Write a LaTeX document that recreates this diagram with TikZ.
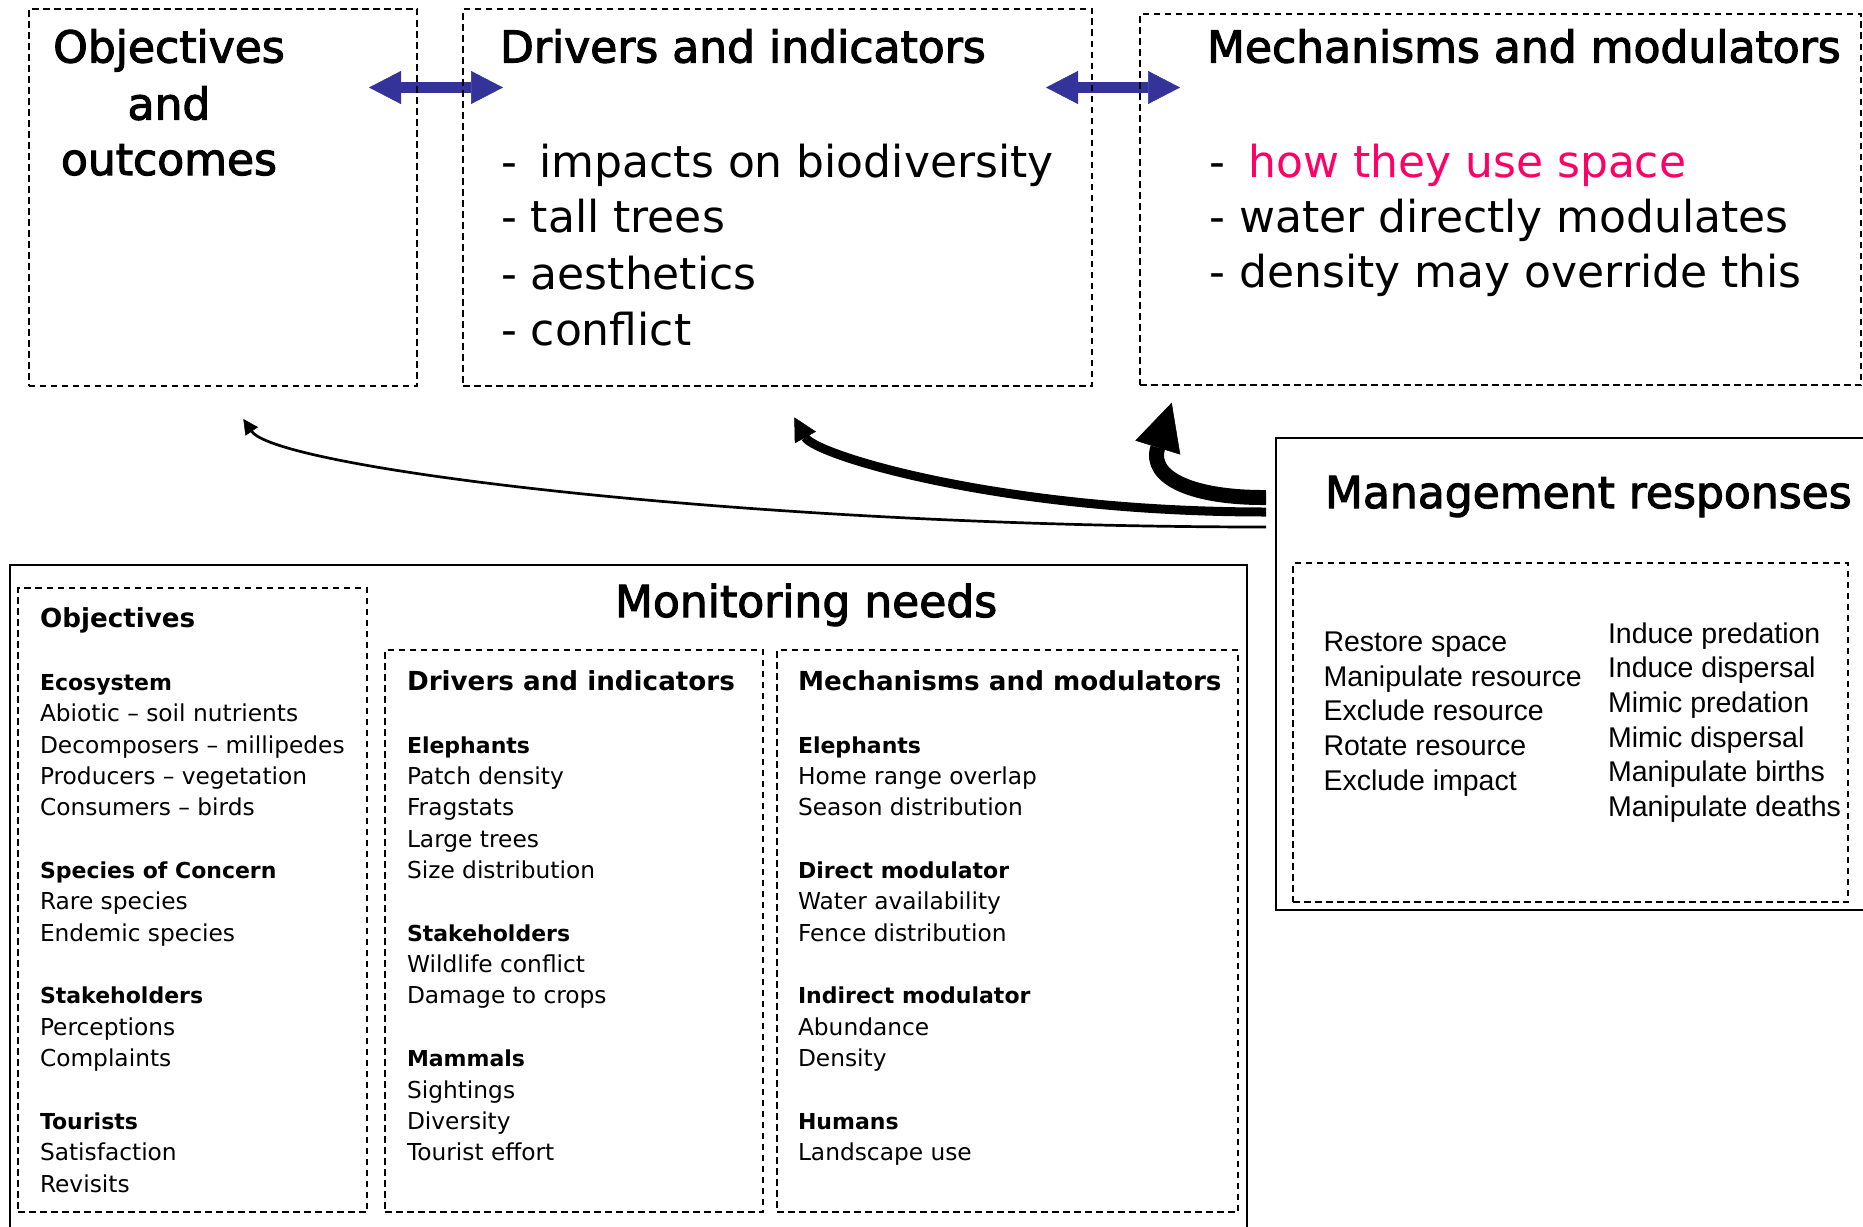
\documentclass[tikz,border=0pt]{standalone}
\usepackage{fontspec}
\setmainfont{DejaVu Sans}
\newfontfamily\titlefont[FakeBold=2.5]{DejaVu Sans}
\newfontfamily\arialfont{Liberation Sans}
\usetikzlibrary{arrows.meta}
\definecolor{arrowblue}{RGB}{51,51,153}
\definecolor{hotpink}{RGB}{255,0,102}
\tikzset{
  dbox/.style={draw, line width=2pt, dash pattern=on 6.5pt off 4.5pt, anchor=north west},
  sbox/.style={draw, line width=2.5pt, anchor=north west},
  toptitle/.style={font=\titlefont\fontsize{44}{56}\selectfont},
  toptxt/.style={anchor=base west, font=\fontsize{44}{56}\selectfont},
  mtitle/.style={anchor=base west, font=\bfseries\fontsize{26.2}{31.36}\selectfont},
  mhead/.style={anchor=base west, font=\bfseries\fontsize{22}{31.36}\selectfont},
  mtxt/.style={anchor=base west, font=\fontsize{23.3}{31.36}\selectfont},
  rtxt/.style={anchor=base west, font=\arialfont\fontsize{28.5}{34.6}\selectfont},
  bluearr/.style={draw=arrowblue, line width=10.5pt,
    {Triangle[length=32pt,width=33pt,line width=0.5pt]}-{Triangle[length=32pt,width=33pt,line width=0.5pt]}},
  thinarr/.style={draw=black, line width=2.7pt, -{Triangle[length=15pt,width=15pt,line width=0.5pt]}},
  medarr/.style={draw=black, line width=9pt, -{Triangle[length=23pt,width=24pt,line width=0.5pt]}},
  thickarr/.style={draw=black, line width=15pt, -{Triangle[length=47pt,width=47pt,line width=0.5pt]}}
}
\begin{document}
\begin{tikzpicture}[x=1pt,y=-1pt, every node/.style={inner sep=0pt,outer sep=0pt}]
\useasboundingbox (0,0) rectangle (1863,1226);
\clip (0,0) rectangle (1863,1226);
\fill[white] (0,0) rectangle (1863,1226);

% blue double arrows (under the dashed borders)
\coordinate (ba1) at (369,87.5);
\coordinate (bb1) at (503,87.5);
\coordinate (ba2) at (1046,87.5);
\coordinate (bb2) at (1180,87.5);
\draw[bluearr] (ba1) -- (bb1);
\draw[bluearr] (ba2) -- (bb2);

% top boxes
\node[dbox, minimum width=388.5pt, minimum height=377pt] (tobj) at (28.5,9) {};
\node[dbox, minimum width=629pt, minimum height=377pt] (tdrv) at (463,9) {};
\node[dbox, minimum width=721pt, minimum height=371pt] (tmech) at (1140,14) {};

\node[toptitle, anchor=base] (tobj1) at (169,62.5) {Objectives};
\node[toptitle, anchor=base] (tobj2) at (169,119.6) {and};
\node[toptitle, anchor=base] (tobj3) at (169,175) {outcomes};

\node[toptitle, anchor=base west] (tdrvT) at (500,62.5) {Drivers and indicators};
\node[toptxt] (tdrv1) at (501,177) {-\hspace{0.2em} impacts on biodiversity};
\node[toptxt] (tdrv2) at (501,232) {- tall trees};
\node[toptxt] (tdrv3) at (501,289) {- aesthetics};
\node[toptxt] (tdrv4) at (501,345) {- conflict};

\node[toptitle, anchor=base west] (tmechT) at (1207,62.5) {Mechanisms and modulators};
\node[toptxt] (tmech1) at (1209.6,177) {-\hspace{0.2em} \textcolor{hotpink}{how they use space}};
\node[toptxt] (tmech2) at (1209.6,232) {- water directly modulates};
\node[toptxt] (tmech3) at (1209.6,287) {- density may override this};

% management responses
\node[sbox, minimum width=620pt, minimum height=472pt] (mgmt) at (1276,438) {};
\node[toptitle, anchor=base west] (mgmtT) at (1325,508) {Management responses};
\node[dbox, minimum width=555pt, minimum height=339pt] (mgin) at (1293,563) {};
\foreach \k/\t in {0/Restore space, 1/Manipulate resource, 2/Exclude resource, 3/Rotate resource, 4/Exclude impact}
  \node[rtxt] (ml\k) at (1323.5,{651.7+\k*34.6}) {\t};
\foreach \k/\t in {0/Induce predation, 1/Induce dispersal, 2/Mimic predation, 3/Mimic dispersal, 4/Manipulate births, 5/Manipulate deaths}
  \node[rtxt] (mr\k) at (1608,{643.3+\k*34.6}) {\t};

% curved arrows from management responses
\coordinate (t1) at (243.3,419);
\coordinate (t2) at (794.3,417.3);
\coordinate (t3) at (1171.7,402.7);
\draw[thinarr] ([shift={(-10,89)}]mgmt.north west) .. controls (750,527) and (277,468.5) .. (t1);
\draw[medarr] ([shift={(-10,74)}]mgmt.north west) .. controls (1000,512) and (815,455) .. (t2);
\draw[thickarr] ([shift={(-10,59.5)}]mgmt.north west) .. controls (1195,498) and (1148,479) .. (t3);

% monitoring needs
\node[sbox, minimum width=1237pt, minimum height=690pt] (mon) at (10,565) {};
\node[toptitle, anchor=base west] (monT) at (615,617) {Monitoring needs};

\node[dbox, minimum width=349pt, minimum height=624pt] (bobj) at (18,588) {};
\node[dbox, minimum width=378pt, minimum height=562pt] (bdrv) at (385,650) {};
\node[dbox, minimum width=461pt, minimum height=562pt] (bmech) at (777,650) {};

% objectives column
\node[mtitle] (oT) at (40,627.6) {Objectives};
\foreach \n/\t in {2/Ecosystem, 8/Species of Concern, 12/Stakeholders, 16/Tourists}
  \node[mhead] (oh\n) at (40,{627.6+\n*31.36}) {\t};
\foreach \n/\t in {3/Abiotic – soil nutrients, 4/Decomposers – millipedes, 5/Producers – vegetation, 6/Consumers – birds, 9/Rare species, 10/Endemic species, 13/Perceptions, 14/Complaints, 17/Satisfaction, 18/Revisits}
  \node[mtxt] (ol\n) at (40,{627.6+\n*31.36}) {\t};

% drivers column
\node[mtitle] (dT) at (407,{627.6+2*31.36}) {Drivers and indicators};
\foreach \n/\t in {4/Elephants, 10/Stakeholders, 14/Mammals}
  \node[mhead] (dh\n) at (407,{627.6+\n*31.36}) {\t};
\foreach \n/\t in {5/Patch density, 6/Fragstats, 7/Large trees, 8/Size distribution, 11/Wildlife conflict, 12/Damage to crops, 15/Sightings, 16/Diversity, 17/Tourist effort}
  \node[mtxt] (dl\n) at (407,{627.6+\n*31.36}) {\t};

% mechanisms column
\node[mtitle] (mT) at (798,{627.6+2*31.36}) {Mechanisms and modulators};
\foreach \n/\t in {4/Elephants, 8/Direct modulator, 12/Indirect modulator, 16/Humans}
  \node[mhead] (mh\n) at (798,{627.6+\n*31.36}) {\t};
\foreach \n/\t in {5/Home range overlap, 6/Season distribution, 9/Water availability, 10/Fence distribution, 13/Abundance, 14/Density, 17/Landscape use}
  \node[mtxt] (mm\n) at (798,{627.6+\n*31.36}) {\t};
\end{tikzpicture}
\end{document}
